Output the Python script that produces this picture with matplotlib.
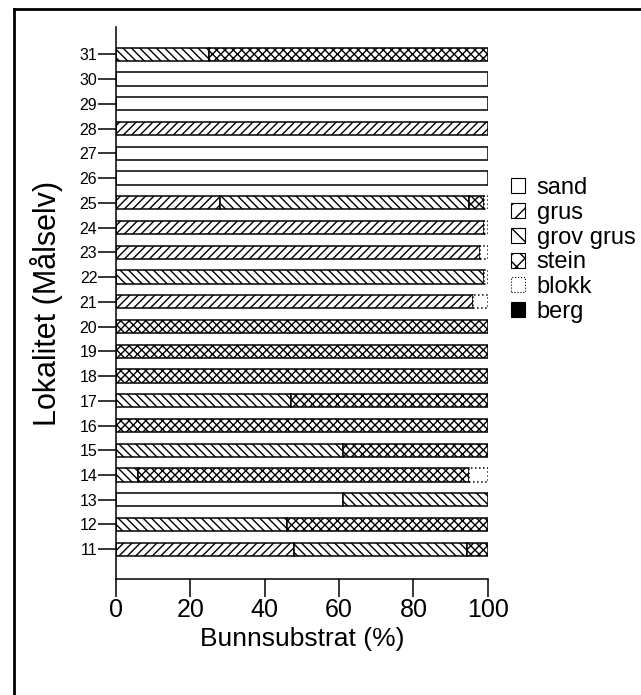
import numpy as np
import matplotlib
matplotlib.use("Agg")
import matplotlib.pyplot as plt
from matplotlib.patches import Patch
from matplotlib.lines import Line2D

plt.rcParams['font.family'] = ['Liberation Sans', 'DejaVu Sans']
plt.rcParams['hatch.linewidth'] = 1.0

# lokaliteter i Målselv
lokalitet = np.arange(11, 32)

# andel bunnsubstrat (%) per lokalitet, 11..31
sand      = [0, 0, 61, 0, 0, 0, 0, 0, 0, 0, 0, 0, 0, 0, 0, 100, 100, 0, 100, 100, 0]
grus      = [48, 0, 0, 0, 0, 0, 0, 0, 0, 0, 96, 0, 98, 99, 28, 0, 0, 100, 0, 0, 0]
grov_grus = [46.5, 46, 39, 6, 61, 0, 47, 0, 0, 0, 0, 99, 0, 0, 67, 0, 0, 0, 0, 0, 25]
stein     = [5.5, 54, 0, 89, 39, 100, 53, 100, 100, 100, 0, 0, 0, 0, 4, 0, 0, 0, 0, 0, 75]
blokk     = [0, 0, 0, 5, 0, 0, 0, 0, 0, 0, 4, 1, 2, 1, 1, 0, 0, 0, 0, 0, 0]
berg      = [0] * 21

# navn, verdier, farge, skravur (stolpe), skravur (legende), kantlinje
serier = [
    ("sand", sand, "white", "", "", "-"),
    ("grus", grus, "white", "////", "//", "-"),
    ("grov grus", grov_grus, "white", "\\\\\\\\", "\\\\", "-"),
    ("stein", stein, "white", "xxxx", "xx", "-"),
    ("blokk", blokk, "white", "", "", ":"),
    ("berg", berg, "black", "", "", "-"),
]

fig = plt.figure(figsize=(6.41, 6.95), dpi=100)
ax = fig.add_axes([0.181, 0.167, 0.58, 0.794])

venstre = np.zeros(len(lokalitet))
for navn, verdier, farge, hatch, _, ls in serier:
    v = np.array(verdier, dtype=float)
    m = v > 0
    if m.any():
        ax.barh(lokalitet[m], v[m], left=venstre[m], height=0.54,
                color=farge, edgecolor="black", linewidth=1.1, hatch=hatch,
                linestyle=ls)
    venstre += v

ax.set_xlim(0, 100)
ax.set_ylim(9.8, 32.1)
ax.set_xticks([0, 20, 40, 60, 80, 100])
ax.set_yticks(lokalitet)
ax.tick_params(axis='x', length=13, width=1.1, labelsize=18, pad=1)
ax.tick_params(axis='y', length=13, width=1.1, labelsize=11.5, pad=0.5)
ax.spines['top'].set_visible(False)
ax.spines['right'].set_visible(False)
ax.spines['left'].set_linewidth(1.1)
ax.spines['bottom'].set_linewidth(1.1)
ax.set_xlabel("Bunnsubstrat (%)", fontsize=19, labelpad=3)
ax.set_ylabel("Lokalitet (Målselv)", fontsize=22, labelpad=12)

handles = [Patch(facecolor=f, edgecolor="black", hatch=hl,
                 linewidth=0.8, linestyle=ls, label=n)
           for n, _, f, _, hl, ls in serier]
ax.legend(handles=handles, loc="upper left", bbox_to_anchor=(1.03, 0.75),
          frameon=False, fontsize=17, handlelength=0.6, handleheight=0.6,
          handletextpad=0.5, labelspacing=0.12, borderpad=0)

# ramme rundt figuren (bare topp og venstre synlig i originalen)
fig.add_artist(Line2D([14 / 641, 1.0], [1 - 9 / 695, 1 - 9 / 695],
                      transform=fig.transFigure, color="black", linewidth=2))
fig.add_artist(Line2D([14 / 641, 14 / 641], [0.0, 1 - 9 / 695],
                      transform=fig.transFigure, color="black", linewidth=2))

fig.savefig("out.png", dpi=100)
